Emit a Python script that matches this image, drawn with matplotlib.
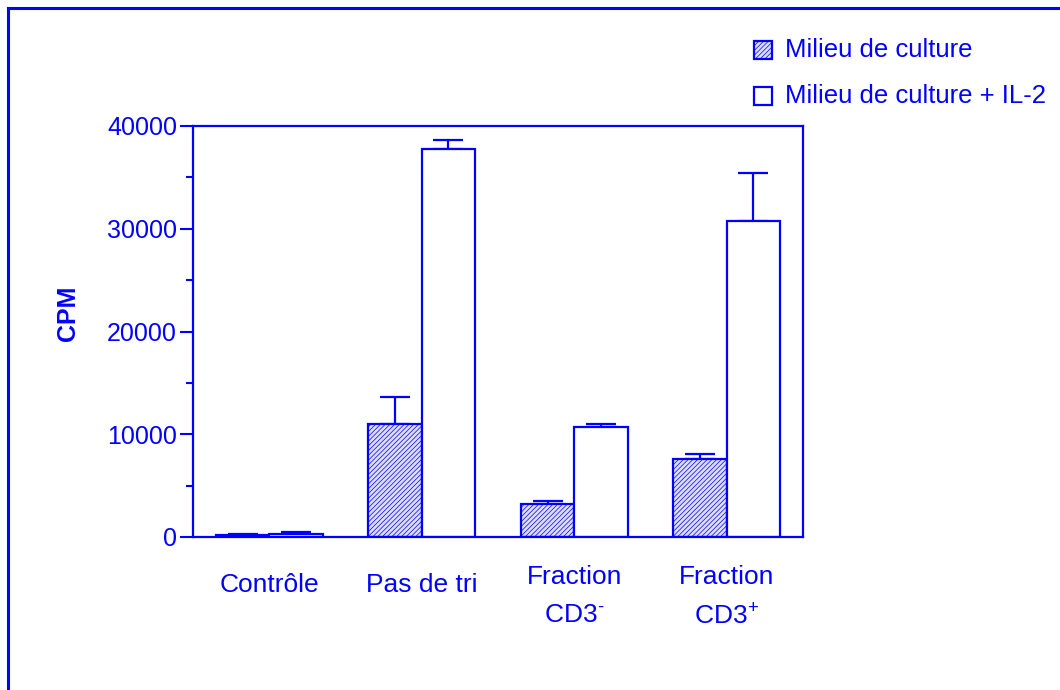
import matplotlib
matplotlib.use("Agg")
import matplotlib.pyplot as plt
from matplotlib.patches import Rectangle
from matplotlib.lines import Line2D
import numpy as np

plt.rcParams['font.family'] = ['Liberation Sans', 'DejaVu Sans']
plt.rcParams['mathtext.fontset'] = 'custom'
plt.rcParams['mathtext.rm'] = 'Liberation Sans'
plt.rcParams['mathtext.it'] = 'Liberation Sans'
plt.rcParams['mathtext.bf'] = 'Liberation Sans:bold'
plt.rcParams['hatch.linewidth'] = 0.5

BLUE = '#0000ff'

categories = ['Contrôle', 'Pas de tri', 'Fraction\nCD3$^{\\text{-}}$', 'Fraction\nCD3$^{\\text{+}}$']
series_names = ['Milieu de culture', 'Milieu de culture + IL-2']
medium = [150, 11000, 3200, 7600]
medium_err = [100, 2600, 300, 500]
il2 = [300, 37800, 10750, 30800]
il2_err = [200, 850, 250, 4600]
yticks = [0, 10000, 20000, 30000, 40000]
ytick_labels = ['0', '10000', '20000', '30000', '40000']

fig = plt.figure(figsize=(10.6, 6.9), dpi=100)
ax = fig.add_axes([193/1060, 1-537/690, 610/1060, 411/690])

x = np.arange(len(categories))
w = 0.35
ax.bar(x - w/2, medium, w, facecolor='#dcdcff', edgecolor=BLUE, linewidth=1.6,
       hatch='///////', zorder=2)
ax.bar(x + w/2, il2, w, facecolor='white', edgecolor=BLUE, linewidth=1.6, zorder=2)
ax.errorbar(x - w/2, medium, yerr=[np.zeros(len(medium)), medium_err], fmt='none',
            ecolor=BLUE, elinewidth=1.6, capsize=10.5, capthick=1.6, zorder=1)
ax.errorbar(x + w/2, il2, yerr=[np.zeros(len(il2)), il2_err], fmt='none',
            ecolor=BLUE, elinewidth=1.6, capsize=10.5, capthick=1.6, zorder=1)

ax.set_xlim(-0.5, 3.5)
ax.set_ylim(0, 40000)
ax.set_yticks(yticks)
ax.set_yticklabels(ytick_labels)
ax.set_yticks([5000, 15000, 25000, 35000], minor=True)
ax.tick_params(axis='y', which='major', direction='out', length=9.5, width=1.5,
               color=BLUE, labelcolor=BLUE, labelsize=18, pad=2)
ax.tick_params(axis='y', which='minor', direction='out', length=5, width=1.5, color=BLUE)
ax.tick_params(axis='x', length=0, labelbottom=False)
for s in ax.spines.values():
    s.set_color(BLUE)
    s.set_linewidth(1.6)

for xi, lab in zip(x, categories):
    if '\n' in lab:
        ax.text(xi, -0.068, lab, ha='center', va='top', color=BLUE, fontsize=19,
                linespacing=1.75, transform=ax.get_xaxis_transform())
    else:
        ax.text(xi, -0.088, lab, ha='center', va='top', color=BLUE, fontsize=19,
                transform=ax.get_xaxis_transform())

fig.text(68/1060, 1-313/690, 'CPM', rotation=90, ha='center', va='center',
         color=BLUE, fontsize=18, fontweight='bold')

# legend
leg_y = [50, 96]
styles = [dict(facecolor='#dcdcff', hatch='///////'), dict(facecolor='white')]
for yy, name, st in zip(leg_y, series_names, styles):
    fig.add_artist(Rectangle((754/1060, 1-(yy+9)/690), 18/1060, 18/690,
                             transform=fig.transFigure, edgecolor=BLUE,
                             linewidth=1.6, **st))
    fig.text(785/1060, 1-yy/690, name, ha='left', va='center', color=BLUE, fontsize=18.5)

# frame
fig.add_artist(Line2D([7.5/1060, 1], [1-7.5/690, 1-7.5/690], transform=fig.transFigure,
                      color=BLUE, linewidth=2.2))
fig.add_artist(Line2D([7.5/1060, 7.5/1060], [0, 1-7.5/690], transform=fig.transFigure,
                      color=BLUE, linewidth=2.2))

fig.savefig('out.png', dpi=100)
